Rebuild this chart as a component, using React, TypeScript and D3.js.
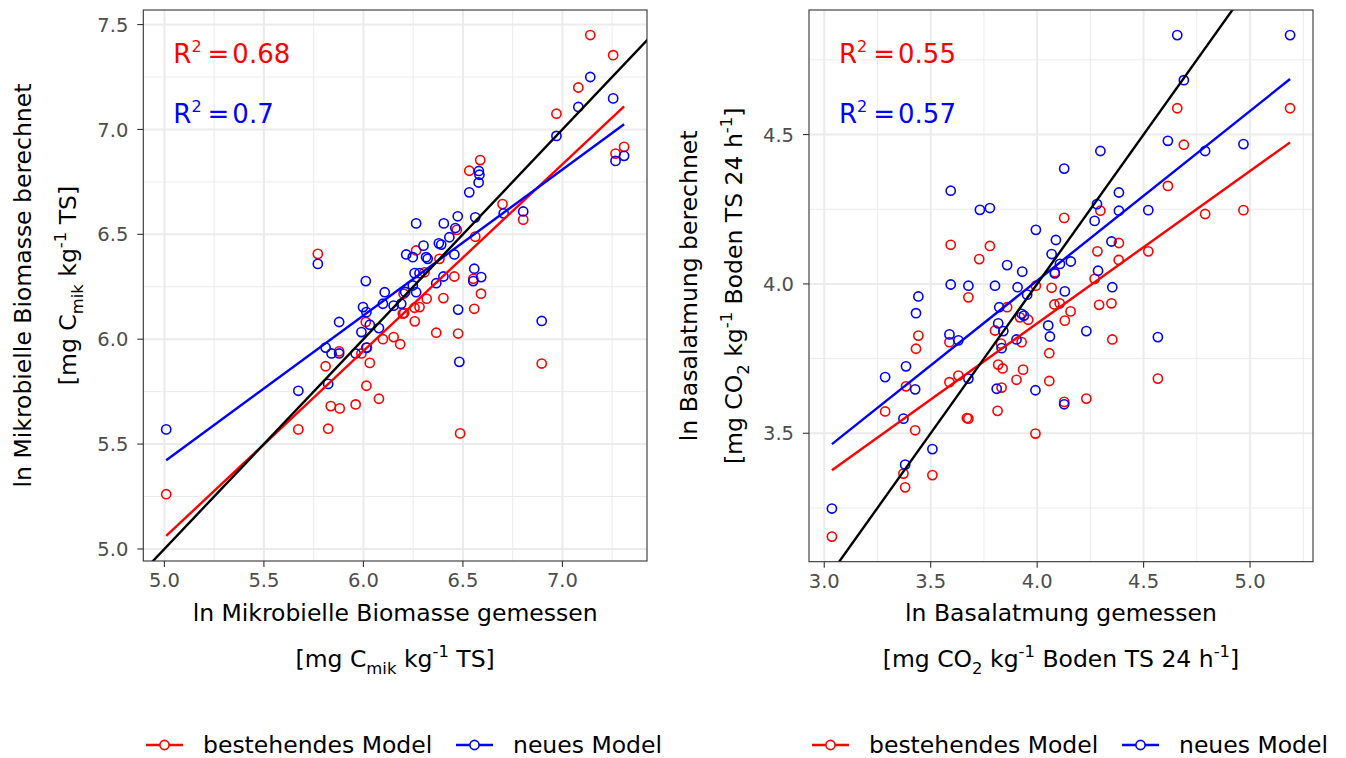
import React from "react";
import * as d3 from "d3";

type Pt = [number, number];

// ---- Left panel: Mikrobielle Biomasse (x = gemessen, y = berechnet) ----
const bioExisting: Pt[] = [
  [5.009, 5.261], [5.673, 5.57], [5.771, 6.407], [5.823, 5.573], [5.836, 5.681], [5.881, 5.67],
  [5.961, 5.689], [6.015, 5.778], [6.078, 5.716], [5.81, 5.871], [5.878, 5.942], [6.032, 5.887],
  [5.99, 5.932], [6.018, 5.96], [6.012, 6.082], [6.098, 6.0], [6.152, 6.01], [6.185, 5.976],
  [6.258, 6.085], [6.205, 6.125], [6.265, 6.423], [6.587, 6.854], [6.532, 6.803], [6.699, 6.644],
  [6.803, 6.57], [6.562, 6.489], [6.469, 6.521], [6.382, 6.383], [6.307, 6.319], [6.457, 6.299],
  [6.552, 6.288], [6.591, 6.217], [6.402, 6.196], [6.318, 6.193], [6.282, 6.153], [6.257, 6.15],
  [6.198, 6.122], [6.557, 6.145], [6.366, 6.031], [6.476, 6.027], [6.486, 5.551], [6.896, 5.884],
  [7.14, 7.45], [7.255, 7.354], [7.08, 7.2], [6.97, 7.075], [7.267, 6.885], [7.31, 6.917],
  [6.202, 6.217],
];
const bioNew: Pt[] = [
  [5.009, 5.57], [5.673, 5.754], [5.771, 6.359], [5.823, 5.787], [5.81, 5.96], [5.84, 5.932],
  [5.878, 5.932], [5.878, 6.082], [5.961, 5.932], [5.99, 6.034], [6.015, 5.96], [5.998, 6.153],
  [6.015, 6.129], [6.032, 6.069], [6.078, 6.053], [6.012, 6.277], [6.107, 6.224], [6.098, 6.169],
  [6.152, 6.16], [6.19, 6.169], [6.21, 6.225], [6.215, 6.404], [6.248, 6.391], [6.315, 6.391],
  [6.323, 6.383], [6.302, 6.446], [6.257, 6.315], [6.282, 6.315], [6.248, 6.256], [6.265, 6.224],
  [6.476, 6.141], [6.482, 5.892], [6.896, 6.087], [6.58, 6.802], [6.583, 6.784], [6.579, 6.747],
  [6.532, 6.7], [6.705, 6.6], [6.803, 6.609], [6.474, 6.586], [6.562, 6.581], [6.265, 6.552],
  [6.404, 6.552], [6.462, 6.53], [6.432, 6.486], [6.379, 6.457], [6.391, 6.451], [6.457, 6.404],
  [6.402, 6.299], [6.366, 6.267], [6.557, 6.336], [6.552, 6.277], [6.592, 6.296], [7.14, 7.25],
  [7.255, 7.148], [7.08, 7.107], [6.97, 6.969], [7.267, 6.85], [7.31, 6.874],
];

// ---- Right panel: Basalatmung ----
const respExisting: Pt[] = [
  [4.658, 4.588], [5.188, 4.588], [4.689, 4.466], [4.614, 4.328], [4.297, 4.245], [4.789, 4.234],
  [4.969, 4.247], [4.127, 4.221], [3.594, 4.131], [3.778, 4.127], [3.728, 4.083], [4.283, 4.109],
  [4.384, 4.137], [4.383, 4.08], [4.522, 4.109], [4.083, 4.039], [3.994, 3.994], [4.068, 3.987],
  [4.27, 4.017], [3.677, 3.955], [3.859, 3.922], [4.081, 3.931], [4.106, 3.935], [4.157, 3.908],
  [4.13, 3.877], [4.291, 3.93], [4.349, 3.935], [3.919, 3.888], [3.958, 3.88], [3.802, 3.844],
  [3.442, 3.827], [3.588, 3.805], [3.431, 3.783], [3.927, 3.805], [4.057, 3.768], [4.353, 3.814],
  [4.567, 3.683], [3.286, 3.573], [3.384, 3.657], [3.427, 3.51], [3.588, 3.671], [3.63, 3.693],
  [3.677, 3.549], [3.67, 3.551], [3.817, 3.73], [3.838, 3.717], [3.934, 3.713], [3.903, 3.679],
  [3.833, 3.653], [3.814, 3.575], [4.057, 3.675], [4.127, 3.605], [4.231, 3.616], [3.992, 3.499],
  [3.372, 3.365], [3.38, 3.319], [3.508, 3.36], [3.036, 3.154], [3.83, 3.8],
];
const respNew: Pt[] = [
  [4.658, 4.833], [5.188, 4.833], [4.689, 4.682], [4.614, 4.479], [4.789, 4.445], [4.969, 4.468],
  [4.297, 4.445], [4.127, 4.386], [3.594, 4.312], [4.384, 4.306], [3.731, 4.248], [3.778, 4.254],
  [4.281, 4.267], [4.384, 4.245], [4.522, 4.247], [4.27, 4.211], [3.994, 4.181], [4.088, 4.147],
  [4.349, 4.142], [4.068, 4.1], [3.859, 4.063], [3.93, 4.041], [4.158, 4.075], [4.107, 4.067],
  [4.286, 4.044], [3.594, 3.998], [3.677, 3.994], [3.802, 3.994], [3.908, 3.989], [4.13, 3.975],
  [4.353, 3.989], [3.442, 3.958], [3.431, 3.902], [3.822, 3.922], [3.953, 3.964], [3.927, 3.9],
  [3.938, 3.894], [3.817, 3.868], [3.841, 3.842], [3.588, 3.831], [3.63, 3.811], [3.903, 3.814],
  [3.833, 3.785], [4.052, 3.861], [4.06, 3.824], [4.231, 3.842], [4.567, 3.822], [3.286, 3.688],
  [3.384, 3.724], [3.427, 3.647], [3.677, 3.683], [3.81, 3.649], [3.992, 3.644], [4.127, 3.597],
  [3.372, 3.549], [3.508, 3.447], [3.38, 3.395], [3.036, 3.248], [4.083, 4.035],
];

// linear fits [bestehendes, neues]
const bioFitIntercept = [0.604, 1.937];
const bioFitSlope = [0.89, 0.696];
const respFitIntercept = [1.828, 1.739];
const respFitSlope = [0.51, 0.568];

const bioR2 = ["0.68", "0.7"];
const respR2 = ["0.55", "0.57"];

const bioXTicks = [5.0, 5.5, 6.0, 6.5, 7.0];
const bioYTicks = [5.0, 5.5, 6.0, 6.5, 7.0, 7.5];
const respXTicks = [3.0, 3.5, 4.0, 4.5, 5.0];
const respYTicks = [3.5, 4.0, 4.5];

const seriesNames = ["bestehendes Model", "neues Model"];
const seriesColors = ["#FF0000", "#0000FF"];

type Part = { t: string; s?: "sub" | "sup" };
const bioXTitle = "ln Mikrobielle Biomasse gemessen";
const bioYTitle = "ln Mikrobielle Biomasse berechnet";
const bioUnit: Part[] = [{ t: "[mg C" }, { t: "mik", s: "sub" }, { t: " kg" }, { t: "-1", s: "sup" }, { t: " TS]" }];
const respXTitle = "ln Basalatmung gemessen";
const respYTitle = "ln Basalatmung berechnet";
const respUnit: Part[] = [
  { t: "[mg CO" }, { t: "2", s: "sub" }, { t: " kg" }, { t: "-1", s: "sup" },
  { t: " Boden TS 24 h" }, { t: "-1", s: "sup" }, { t: "]" },
];

const FONT = "DejaVu Sans";
const TITLE = 23.5;
const TICK = 19.5;

function Rich({ parts, size, ...rest }: any) {
  let cur = 0;
  return (
    <text fontSize={size} style={{ whiteSpace: "pre" }} {...rest}>
      {parts.map((p: Part, i: number) => {
        const target = p.s === "sub" ? size * 0.3 : p.s === "sup" ? -size * 0.42 : 0;
        const dy = target - cur;
        cur = target;
        return (
          <tspan key={i} dy={dy} fontSize={p.s ? size * 0.7 : size}>
            {p.t}
          </tspan>
        );
      })}
    </text>
  );
}

function expanded(vals: number[]): [number, number] {
  const [a, b] = d3.extent(vals) as [number, number];
  const pad = (b - a) * 0.05;
  return [a - pad, b + pad];
}

function Panel(props: any) {
  const { id, x0, x1, y0, y1, series, intercepts, slopes, xTicks, yTicks, r2, xTitle, yTitle, unit, legendX } = props;
  const allX = series.flatMap((s: Pt[]) => s.map((p) => p[0]));
  const fitEnds: number[] = [];
  const lineSegs = series.map((s: Pt[], i: number) => {
    const [a, b] = d3.extent(s, (p) => p[0]) as [number, number];
    const ya = intercepts[i] + slopes[i] * a;
    const yb = intercepts[i] + slopes[i] * b;
    fitEnds.push(ya, yb);
    return [[a, ya], [b, yb]] as Pt[];
  });
  const allY = series.flatMap((s: Pt[]) => s.map((p) => p[1])).concat(fitEnds);
  const xd = expanded(allX);
  const yd = expanded(allY);
  const x = d3.scaleLinear().domain(xd).range([x0, x1]);
  const y = d3.scaleLinear().domain(yd).range([y1, y0]);
  const line = d3.line<Pt>().x((d) => x(d[0])).y((d) => y(d[1]));

  const minorOf = (ticks: number[], dom: [number, number]) => {
    const step = ticks[1] - ticks[0];
    const vals = ticks.map((t) => t - step / 2).concat([ticks[ticks.length - 1] + step / 2]);
    return vals.filter((v) => v > dom[0] && v < dom[1]);
  };
  const xMinor = minorOf(xTicks, xd);
  const yMinor = minorOf(yTicks, yd);
  const cx = (x0 + x1) / 2;
  const cy = (y0 + y1) / 2;
  const legendY = 745;
  const r2y = [y0 + 53, y0 + 113];

  return (
    <g>
      <defs>
        <clipPath id={id}>
          <rect x={x0} y={y0} width={x1 - x0} height={y1 - y0} />
        </clipPath>
      </defs>
      <rect x={x0} y={y0} width={x1 - x0} height={y1 - y0} fill="#FFFFFF" />
      {xMinor.map((v: number) => (
        <line key={"xm" + v} x1={x(v)} x2={x(v)} y1={y0} y2={y1} stroke="#EBEBEB" strokeWidth={1} />
      ))}
      {yMinor.map((v: number) => (
        <line key={"ym" + v} x1={x0} x2={x1} y1={y(v)} y2={y(v)} stroke="#EBEBEB" strokeWidth={1} />
      ))}
      {xTicks.map((v: number) => (
        <line key={"xM" + v} x1={x(v)} x2={x(v)} y1={y0} y2={y1} stroke="#EBEBEB" strokeWidth={2} />
      ))}
      {yTicks.map((v: number) => (
        <line key={"yM" + v} x1={x0} x2={x1} y1={y(v)} y2={y(v)} stroke="#EBEBEB" strokeWidth={2} />
      ))}
      <g clipPath={`url(#${id})`}>
        {series.map((s: Pt[], i: number) =>
          s.map((p, j) => (
            <circle key={i + "-" + j} cx={x(p[0])} cy={y(p[1])} r={4.6} fill="none" stroke={seriesColors[i]} strokeWidth={1.6} />
          ))
        )}
        {lineSegs.map((seg: Pt[], i: number) => (
          <path key={"fit" + i} d={line(seg) || ""} fill="none" stroke={seriesColors[i]} strokeWidth={2.4} />
        ))}
        <path
          d={line([[Math.min(xd[0], yd[0]), Math.min(xd[0], yd[0])], [Math.max(xd[1], yd[1]), Math.max(xd[1], yd[1])]]) || ""}
          fill="none"
          stroke="#000000"
          strokeWidth={2.4}
        />
      </g>
      <rect x={x0} y={y0} width={x1 - x0} height={y1 - y0} fill="none" stroke="#333333" strokeWidth={1.1} />
      {xTicks.map((v: number) => (
        <g key={"xt" + v}>
          <line x1={x(v)} x2={x(v)} y1={y1} y2={y1 + 6} stroke="#333333" strokeWidth={1.1} />
          <text x={x(v)} y={y1 + 26} textAnchor="middle" fontSize={TICK} fill="#4D4D4D">
            {d3.format(".1f")(v)}
          </text>
        </g>
      ))}
      {yTicks.map((v: number) => (
        <g key={"yt" + v}>
          <line x1={x0 - 6} x2={x0} y1={y(v)} y2={y(v)} stroke="#333333" strokeWidth={1.1} />
          <text x={x0 - 15} y={y(v) + 7.1} textAnchor="end" fontSize={TICK} fill="#4D4D4D">
            {d3.format(".1f")(v)}
          </text>
        </g>
      ))}
      <text x={cx} y={621} textAnchor="middle" fontSize={TITLE} fill="#000000">
        {xTitle}
      </text>
      <Rich parts={unit} size={TITLE} x={cx} y={667} textAnchor="middle" fill="#000000" />
      <text transform={`translate(${x0 - 112},${cy}) rotate(-90)`} textAnchor="middle" fontSize={TITLE} fill="#000000">
        {yTitle}
      </text>
      <Rich parts={unit} size={TITLE} transform={`translate(${x0 - 67},${cy}) rotate(-90)`} textAnchor="middle" fill="#000000" />
      {r2.map((val: string, i: number) => (
        <text key={"r2" + i} x={x0 + 30} y={r2y[i]} fontSize={26} fill={seriesColors[i]} style={{ whiteSpace: "pre" }}>
          <tspan>R</tspan>
          <tspan dy={-11} fontSize={16}>2</tspan>
          <tspan dy={11} dx={6}>=</tspan>
          <tspan dx={3}>{val}</tspan>
        </text>
      ))}
      {seriesNames.map((name, i) => {
        const kx = legendX + i * 310;
        return (
          <g key={"lg" + i}>
            <line x1={kx} x2={kx + 37} y1={legendY} y2={legendY} stroke={seriesColors[i]} strokeWidth={2.4} />
            <circle cx={kx + 18.5} cy={legendY} r={4.6} fill="#FFFFFF" stroke={seriesColors[i]} strokeWidth={1.6} />
            <text x={kx + 57} y={legendY + 8} fontSize={TITLE} fill="#000000">
              {name}
            </text>
          </g>
        );
      })}
    </g>
  );
}

export default function App() {
  return (
    <div style={{ position: "absolute", left: 0, top: 0 }}>
      <svg width={1346} height={758} fontFamily={FONT} style={{ display: "block", background: "#FFFFFF" }}>
        <rect x={0} y={0} width={1346} height={758} fill="#FFFFFF" />
        <Panel
          id="clipL"
          x0={143.3}
          x1={647}
          y0={10}
          y1={561}
          series={[bioExisting, bioNew]}
          intercepts={bioFitIntercept}
          slopes={bioFitSlope}
          xTicks={bioXTicks}
          yTicks={bioYTicks}
          r2={bioR2}
          xTitle={bioXTitle}
          yTitle={bioYTitle}
          unit={bioUnit}
          legendX={146}
        />
        <Panel
          id="clipR"
          x0={809}
          x1={1313}
          y0={10}
          y1={561.7}
          series={[respExisting, respNew]}
          intercepts={respFitIntercept}
          slopes={respFitSlope}
          xTicks={respXTicks}
          yTicks={respYTicks}
          r2={respR2}
          xTitle={respXTitle}
          yTitle={respYTitle}
          unit={respUnit}
          legendX={812}
        />
      </svg>
    </div>
  );
}
